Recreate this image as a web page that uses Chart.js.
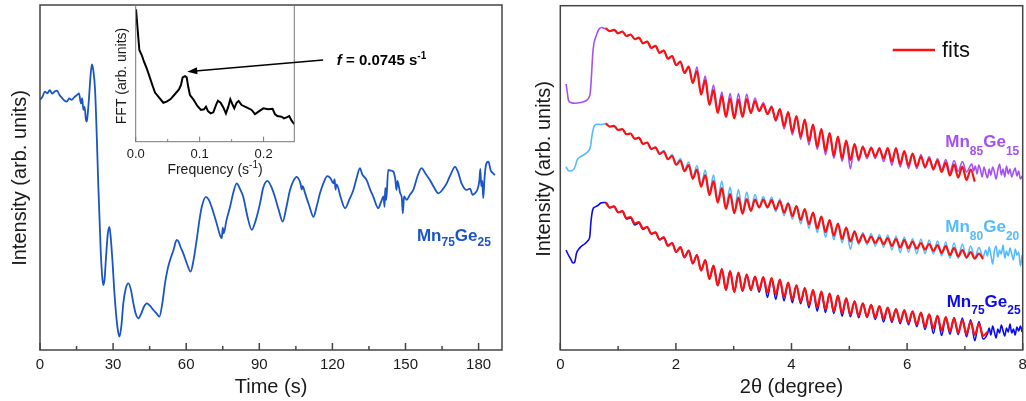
<!DOCTYPE html>
<html><head><meta charset="utf-8">
<script src="https://cdn.jsdelivr.net/npm/chart.js@4.4.0/dist/chart.umd.min.js"></script>
<style>
html,body{margin:0;padding:0;background:#fff;}
#wrap{position:relative;width:1026px;height:401px;overflow:hidden;background:#fff;}
canvas{position:absolute;}
</style></head><body>
<div id="wrap">
<canvas id="cL" width="510" height="401" style="left:0px;top:0px"></canvas>
<canvas id="cR" width="510" height="401" style="left:516px;top:0px"></canvas>
<canvas id="cI" width="360" height="185" style="left:90px;top:0px"></canvas>
</div>
<script>
// ---------------- DATA ----------------
// Left panel: time trace (arb. units 0-100)
const timeS = [0,1,2,3,4,5,6,7,8,9,10,11,12,13,14,15,16,16.8,17.3,17.8,18.3,18.8,19.2,19.6,20.2,20.8,21.3,21.9,22.6,23.3,23.9,24.9,25.5,26.0,26.5,27.1,27.8,28.5,29.1,29.8,30.5,31.2,31.9,32.6,33.4,34.2,35.2,36.3,37.3,38.3,39.3,40.4,41.5,42.7,43.8,45.2,46.5,47.8,49.0,50.2,51.3,52.4,53.4,54.8,56.1,57.0,57.6,58.8,60.3,61.8,63.0,64.3,65.4,66.4,68.1,69.3,70.4,72.5,74.0,74.6,75.0,75.4,76.5,78.0,79.3,80.7,82.0,83.4,85.2,86.9,88.5,90.3,91.6,93.3,95.0,96.4,98.0,99.6,101.0,102.6,104.0,105.3,107.0,107.4,107.8,108.8,110.5,112.2,113.5,114.9,116.4,117.9,119.2,120.4,120.9,121.3,121.7,123.5,125.2,126.9,128.6,130.0,131.3,132.2,134.0,135.5,136.8,138.8,140.0,141.0,141.4,141.7,142.1,142.9,144.0,145.0,145.8,146.3,146.7,147.8,148.5,148.9,149.4,150.5,151.8,153.2,155.0,156.6,158.3,160.0,161.8,163.5,165.2,166.9,168.6,170.3,171.6,173.0,175.1,176.5,177.5,178.5,179.5,180.3,180.7,181.1,181.5,181.9,182.4,183.0,184.0,185.0,185.8,186.7];
const intensityTime = [72.5,73.4,74.9,74.4,75.3,74.3,74.9,75.2,73.9,73.1,72.3,72.0,72.9,72.5,73.2,73.8,74.4,71.5,73.0,69.6,70.5,67.0,66.2,68.5,74.0,80.0,82.8,81.0,75.4,62.0,48.3,29.0,21.5,18.8,20.5,27.0,33.5,35.7,32.0,25.1,17.0,10.6,6.0,3.9,7.0,13.6,17.8,19.3,17.5,13.6,10.5,9.2,10.5,12.6,13.5,12.8,11.6,10.6,9.7,13.5,19.3,23.5,26.1,29.0,31.9,31.2,30.0,28.0,25.0,22.7,26.0,31.9,37.5,41.5,44.4,43.5,41.5,36.7,33.0,32.4,35.5,33.8,37.5,41.5,45.5,48.3,46.8,44.4,38.5,34.8,37.5,42.5,47.0,49.0,47.2,44.4,40.5,37.2,41.0,46.4,49.0,50.2,48.0,46.5,47.5,45.4,41.8,38.6,41.5,45.4,48.5,50.4,49.8,48.3,49.5,46.5,48.0,44.0,41.1,43.5,46.4,50.0,52.7,51.0,49.3,46.5,44.4,41.1,43.0,44.5,41.5,47.0,43.5,52.2,52.0,51.7,49.5,46.4,49.0,45.5,44.0,39.6,44.5,43.5,45.0,46.4,50.5,52.7,51.0,49.3,47.0,45.4,46.5,48.3,51.0,53.1,51.5,48.3,46.4,46.8,45.0,45.4,46.5,49.0,52.5,47.5,49.0,44.0,49.5,53.6,54.6,52.0,51.3,50.7];

// Inset: FFT
const fftFreq = [0.0005,0.0031,0.0057,0.0094,0.0130,0.0172,0.0214,0.0260,0.0302,0.0354,0.0432,0.0484,0.0547,0.0615,0.0677,0.0708,0.0734,0.0771,0.0797,0.0823,0.0849,0.0901,0.0964,0.1021,0.1068,0.1099,0.1130,0.1172,0.1214,0.1255,0.1286,0.1328,0.1370,0.1411,0.1448,0.1479,0.1510,0.1542,0.1578,0.1609,0.1656,0.1734,0.1813,0.1865,0.1932,0.1995,0.2073,0.2141,0.2177,0.2214,0.2281,0.2318,0.2359,0.2401,0.2438,0.2479];
const fftAmp = [96.8,81.7,67.1,63.4,58.5,53.7,48.0,41.5,35.9,32.9,28.5,29.3,31.2,34.9,38.3,41.5,47.1,48.0,47.1,39.8,34.1,31.0,26.1,23.2,23.7,25.6,22.4,20.7,21.5,26.8,30.0,28.5,25.1,20.7,25.6,31.0,27.6,24.4,28.5,29.8,26.8,25.1,23.2,20.2,22.4,24.4,23.7,24.1,20.2,18.8,18.3,17.1,17.8,18.8,15.4,12.9];

// Right panel: 2theta positions of fringe extrema (shared)
const fringeX = [0.786,0.858,0.929,1.001,1.073,1.144,1.216,1.288,1.360,1.431,
1.503,1.575,1.647,1.718,1.790,1.862,1.934,2.005,2.077,2.149,
2.221,2.292,2.364,2.436,2.508,2.579,2.651,2.723,2.795,2.866,
2.938,3.010,3.082,3.153,3.225,3.297,3.369,3.440,3.512,3.584,
3.656,3.727,3.799,3.871,3.943,4.014,4.086,4.158,4.230,4.301,
4.373,4.445,4.517,4.588,4.660,4.732,4.804,4.875,4.947,5.019,
5.091,5.162,5.234,5.306,5.378,5.449,5.521,5.593,5.665,5.736,
5.808,5.880,5.952,6.023,6.095,6.167,6.239,6.310,6.382,6.454,
6.526,6.597,6.669,6.741,6.813,6.884,6.956,7.028,7.100,7.171,
7.243,7.315,7.387];

// Mn85Ge15
const preXMn85 = [0.10,0.12,0.14,0.18,0.25,0.35,0.45,0.50,0.52,0.54,0.56,0.58,0.62,0.67,0.72,0.76];
const preMn85 = [266,258,250,247.5,246.7,247.5,249.5,253,258,275,295,306,314,321,322.5,321.5];
const measMn85 = [321.7,318.8,320.2,316.7,318.5,314,315.5,310.9,312.3,306.6,
308.5,302.1,304.2,297.2,299.5,291.3,294,284.8,288.5,277,
283.5,267,283,256.5,274,246,265,238,258,234,
256.5,232.5,256.5,234,256,237,252,239,247.5,236,
244,229,241,221,238,215,234,210.5,230.5,205,
225.5,200.5,221,195,217,191.5,213.5,188.5,209.5,181,
206,189,204,191.5,203,191.5,202.5,188.5,202,184.5,
202.5,183,199,181.5,196.5,181.5,195.5,182,193.5,180,
191.5,180,190.5,177.5,189.5,178.5,188.5,178];
const tailXMn85 = [7.12,7.15,7.18,7.21,7.24,7.27,7.30,7.33,7.36,7.39,7.42,7.45,7.48,7.51,7.54,7.57,7.60,7.63,7.66,7.69,7.72,7.75,7.78,7.81,7.84,7.87,7.90,7.93,7.96,7.99];
const tailMn85 = [186,179,184,176,185,180,173,183,177,172,181,175,183,178,171,180,186,175,181,173,184,176,181,173,178,182,174,179,171,174];
const fitMn85 = [321.7,318.8,320.2,316.7,318.5,314,315.5,310.9,312.3,306.6,
308.5,302.1,304.2,297.2,299.5,291.3,294,284.8,288.5,277,
283.5,267,279,255.5,270,245,260,237,254,233,
251.5,231.5,250.5,233,251,237,249,239,245.5,236,
243,230,241,224,238,218,234,213.5,230.5,209,
225.5,203.5,221,199,217,194.5,213.5,191.5,209.5,190,
206,191,203,193.5,202,193.5,201.5,191.5,202,188.5,
201.5,186,199,184.5,196.5,183.5,193.5,183,191.5,181,
189.5,178,187.5,174.5,185.5,172.5,183.5,170,180.5,168.3];

// Mn80Ge20
const preXMn80 = [0.10,0.13,0.16,0.22,0.26,0.29,0.33,0.40,0.48,0.52,0.55,0.58,0.63,0.70,0.75];
const preMn80 = [183.3,180,179,180,184,190,192.5,195,198.5,203,215,223,225.7,225.5,226];
const measMn80 = [226.5,223.4,224.2,220,220.8,215.9,216.5,211.2,212.3,206.1,
207.5,200.9,202.7,196,199.5,190.8,195.5,185.3,191.5,179.8,
188,172.2,184.5,165.3,180,157,175,149.5,169,142,
163,137.8,160.5,137.3,158,139.2,155.5,142.5,153.5,141.8,
153,138.5,151,134.3,147.5,130.8,144,126.1,141,121.8,
137.5,117.5,133.5,112.8,130,110.3,126.5,107.1,122.5,100.5,
119.5,105.6,117.5,105.5,116.5,104,115.5,102.8,115,100.1,
114,97.5,113,97.8,111.5,96.3,111,96.5,110,96.1,
109,94.1,108,92,107,91.6,106,91.6,104,92,
102.5,93];
const tailXMn80 = [7.36,7.39,7.42,7.45,7.48,7.51,7.54,7.57,7.60,7.63,7.66,7.69,7.72,7.75,7.78,7.81,7.84,7.87,7.90,7.93,7.96,7.99];
const tailMn80 = [100,94,103,95,86,99,104,93,100,96,105,92,99,94,102,96,90,101,95,98,84,95];
const fitMn80 = [226.5,223.4,224.2,220,220.8,215.9,216.5,211.2,212.3,206.1,
207.5,200.9,202.7,196,198.5,190.8,194,185.3,189.5,178.8,
185,171.2,180.5,163.3,175,155,169,147.5,162,141,
156,136.8,152.5,136.3,151,139.2,150.5,142.5,150.5,142.8,
150,140.5,149,137.3,146.5,133.8,144,130.1,141,125.8,
137.5,121.5,133.5,117.8,130,114.3,126.5,111.1,122.5,108.5,
118.5,107.6,115.5,107.5,113.5,107,112.5,105.8,112,104.1,
111,102.5,110,101.8,108.5,101.3,107,100.5,106,99.1,
105,97.1,104,95,102,93.6,100,92.6,98,91.3,
96.5,91];

// Mn75Ge25
const preXMn75 = [0.10,0.14,0.18,0.22,0.25,0.28,0.32,0.36,0.42,0.48,0.51,0.53,0.56,0.60,0.65,0.70,0.75];
const preMn75 = [100,95,91,87,88,96.7,101,103.5,106,109.5,113.3,128,140,143,144.5,147,147.5];
const measMn75 = [147.5,142.4,143.7,137.7,138.9,131,132,125,127,120.5,
123,116.2,117.7,110.4,112.6,104.2,107,98,102.8,92.7,
99.5,86.5,95,79.5,90,71,84.5,64.5,81,60,
79,58,77.5,59,75.5,60,73.5,58,73,52.5,
72,50.5,70.5,49,67.5,47.3,64.7,46.2,62,42.3,
60,38.8,58.4,37.5,56.5,36.5,54.5,33.8,51.6,33.3,
48.7,32.3,46.7,32.5,45.2,30.5,43.8,28,42.3,27.6,
41,26.4,39.8,25.3,38.7,23.4,37.5,20.5,35.7,16.6,
34.2,14.5,32.8,15.8,32.4,15.5,31.9,13.2,30.3,9.2,
28.5,11];
const tailXMn75 = [7.39,7.42,7.45,7.48,7.51,7.54,7.57,7.60,7.63,7.66,7.69,7.72,7.75,7.78,7.81,7.84,7.87,7.90,7.93,7.96,7.99];
const tailMn75 = [16,22,15,24,18,12,21,17,25,19,14,22,18,26,17,21,15,23,19,24,18];
const fitMn75 = [147.5,142.4,143.7,137.7,138.9,132,133,126.5,128,121.5,
123,116.2,117.7,110.4,112.6,104.2,107,98,102.8,92.7,
99.5,86.5,95,79.5,90,71,84.5,64.5,81,60,
79,58,77.5,59,75.5,60,73.5,60,73,57.5,
72,55.5,70.5,53,67.5,50.3,64.7,48.2,62,45.3,
60,42.8,58.4,40.5,56.5,38.5,54.5,36.8,51.6,35.3,
48.7,34.3,46.7,33.5,45.2,32.5,43.8,31,42.3,29.6,
41,28.4,39.8,27.3,38.7,25.4,37.5,23.5,35.7,21.6,
34.2,19.5,32.8,18.8,31.4,17.5,29.9,16.2,28.3,15.2,
26.5,14,18];

// ---------------- HELPERS ----------------
const FONT = '"Liberation Sans", Arial, Helvetica, sans-serif';
Chart.defaults.font.family = FONT;
const TXT = '#1a1a1a';
function pts(xs, ys){ return ys.map((y,i)=>({x:xs[i], y:y})); }
function rich(ctx, x, y, parts, color, align){
  ctx.save(); ctx.fillStyle = color; ctx.textBaseline = 'alphabetic'; ctx.textAlign = 'left';
  let w = 0; parts.forEach(p=>{ ctx.font = p.f; w += ctx.measureText(p.t).width; });
  let cx = align === 'center' ? x - w/2 : x;
  parts.forEach(p=>{ ctx.font = p.f; ctx.fillText(p.t, cx, y + (p.dy||0)); cx += ctx.measureText(p.t).width; });
  ctx.restore();
}
function rotText(ctx, text, cx, cy, font){
  ctx.save(); ctx.translate(cx, cy); ctx.rotate(-Math.PI/2);
  ctx.font = font; ctx.fillStyle = TXT; ctx.textAlign = 'center'; ctx.textBaseline = 'middle';
  ctx.fillText(text, 0, 0); ctx.restore();
}
function frame(chart, color, lw, isMajor, maj, min){
  const {ctx, chartArea:a} = chart; const x = chart.scales.x;
  ctx.save(); ctx.strokeStyle = color; ctx.lineWidth = lw;
  ctx.strokeRect(a.left, a.top, a.right - a.left, a.bottom - a.top);
  x.ticks.forEach(t=>{
    if (t.value < x.min - 1e-9 || t.value > x.max + 1e-9) return;
    const px = x.getPixelForValue(t.value); const L = isMajor(t.value) ? maj : min;
    ctx.beginPath(); ctx.moveTo(px, a.bottom); ctx.lineTo(px, a.bottom - L); ctx.stroke();
  });
  ctx.restore();
}
const hiddenY = (w, max) => ({ type:'linear', min:0, max:max, ticks:{display:false}, grid:{display:false, drawTicks:false}, border:{display:false}, afterFit(s){ s.width = w; } });

// ---------------- LEFT MAIN ----------------
const COL_L = '#1955c8';
new Chart(document.getElementById('cL'), {
  type:'line',
  data:{ datasets:[{ data: pts(timeS, intensityTime), borderColor: COL_L, borderWidth:1.8, pointRadius:0, cubicInterpolationMode:'monotone', fill:false }] },
  options:{
    responsive:false, animation:false, devicePixelRatio:1,
    layout:{ padding:{ left:0, top:5, right:8, bottom:0 } },
    plugins:{ legend:{display:false}, tooltip:{enabled:false} },
    scales:{
      x:{ type:'linear', min:0, max:189.6,
        ticks:{ stepSize:15, includeBounds:false, autoSkip:false, maxRotation:0, color:TXT, font:{size:15}, padding:6,
          callback:v => (Math.round(v) % 30 === 0 ? String(Math.round(v)) : '') },
        grid:{ display:false, drawTicks:false }, border:{ display:false },
        title:{ display:true, text:'Time (s)', color:TXT, font:{size:20}, padding:{top:0, bottom:2} },
        afterFit(s){ s.height = 51; s.paddingLeft = 0; s.paddingRight = 0; } },
      y: hiddenY(40, 100)
    }
  },
  plugins:[{ id:'decoL', afterDraw(chart){
    const ctx = chart.ctx;
    frame(chart, '#444', 1.5, v => Math.round(v) % 30 === 0, 7, 4);
    rotText(ctx, 'Intensity (arb. units)', 20, 178, '20px ' + FONT);
    const xs = chart.scales.x, ys = chart.scales.y;
    rich(ctx, xs.getPixelForValue(154.7), ys.getPixelForValue(31.7), [
      {t:'Mn', f:'bold 17px ' + FONT}, {t:'75', f:'bold 12px ' + FONT, dy:5.5},
      {t:'Ge', f:'bold 17px ' + FONT}, {t:'25', f:'bold 12px ' + FONT, dy:5.5}], COL_L);
  }}]
});

// ---------------- INSET ----------------
new Chart(document.getElementById('cI'), {
  type:'line',
  data:{ datasets:[{ data: pts(fftFreq, fftAmp), borderColor:'#000', borderWidth:2, pointRadius:0, tension:0, fill:false }] },
  options:{
    responsive:false, animation:false, devicePixelRatio:1,
    layout:{ padding:{ left:0, top:5, right:155.7, bottom:0 } },
    plugins:{ legend:{display:false}, tooltip:{enabled:false} },
    scales:{
      x:{ type:'linear', min:0, max:0.248,
        ticks:{ stepSize:0.05, includeBounds:false, autoSkip:false, maxRotation:0, color:TXT, font:{size:13}, padding:4.5,
          callback:v => { const r = Math.round(v*100); return r % 10 === 0 ? (r/100).toFixed(1) : ''; } },
        grid:{ display:false, drawTicks:false }, border:{ display:false },
        afterFit(s){ s.height = 43.3; s.paddingLeft = 0; s.paddingRight = 0; } },
      y: hiddenY(45.7, 100)
    }
  },
  plugins:[{ id:'decoI', afterDraw(chart){
    const ctx = chart.ctx; const xs = chart.scales.x, ys = chart.scales.y;
    frame(chart, '#777', 1, v => Math.round(v*100) % 10 === 0, 5, 2.5);
    rotText(ctx, 'FFT (arb. units)', 31.7, 76, '14px ' + FONT);
    rich(ctx, (chart.chartArea.left + chart.chartArea.right)/2, 174, [
      {t:'Frequency (s', f:'14px ' + FONT}, {t:'-1', f:'10px ' + FONT, dy:-6}, {t:')', f:'14px ' + FONT}], TXT, 'center');
    // arrow
    const x1 = xs.getPixelForValue(0.2931), y1 = ys.getPixelForValue(59.8);
    const x2 = xs.getPixelForValue(0.0806), y2 = ys.getPixelForValue(51.2);
    const ang = Math.atan2(y2 - y1, x2 - x1);
    ctx.save(); ctx.strokeStyle = '#000'; ctx.fillStyle = '#000'; ctx.lineWidth = 1.5;
    ctx.beginPath(); ctx.moveTo(x1, y1); ctx.lineTo(x2 - 8*Math.cos(ang), y2 - 8*Math.sin(ang)); ctx.stroke();
    ctx.beginPath(); ctx.moveTo(x2, y2);
    ctx.lineTo(x2 - 10*Math.cos(ang) + 3.5*Math.sin(ang), y2 - 10*Math.sin(ang) - 3.5*Math.cos(ang));
    ctx.lineTo(x2 - 10*Math.cos(ang) - 3.5*Math.sin(ang), y2 - 10*Math.sin(ang) + 3.5*Math.cos(ang));
    ctx.closePath(); ctx.fill(); ctx.restore();
    rich(ctx, xs.getPixelForValue(0.3145), ys.getPixelForValue(56.1), [
      {t:'f', f:'italic bold 15px ' + FONT}, {t:' = 0.0745 s', f:'bold 15px ' + FONT}, {t:'-1', f:'bold 10px ' + FONT, dy:-6}], '#000');
  }}]
});

// ---------------- RIGHT ----------------
const COL_85 = '#a550f5', COL_80 = '#55bbff', COL_75 = '#0a0af0', COL_FIT = '#ff1010';
const meas = (xs1, y1, y2, xs3, y3) => [...pts(xs1, y1), ...pts(fringeX, y2), ...pts(xs3, y3)];
const lineDs = (data, color, w, order) => ({ data, borderColor:color, borderWidth:w, pointRadius:0, cubicInterpolationMode:'monotone', fill:false, order });
new Chart(document.getElementById('cR'), {
  type:'line',
  data:{ datasets:[
    lineDs(pts(fringeX, fitMn85), COL_FIT, 2.2, 0),
    lineDs(pts(fringeX, fitMn80), COL_FIT, 2.2, 0),
    lineDs(pts(fringeX, fitMn75), COL_FIT, 2.2, 0),
    lineDs(meas(preXMn85, preMn85, measMn85, tailXMn85, tailMn85), COL_85, 1.6, 1),
    lineDs(meas(preXMn80, preMn80, measMn80, tailXMn80, tailMn80), COL_80, 1.6, 1),
    lineDs(meas(preXMn75, preMn75, measMn75, tailXMn75, tailMn75), COL_75, 1.6, 1)
  ]},
  options:{
    responsive:false, animation:false, devicePixelRatio:1,
    layout:{ padding:{ left:0, top:5.7, right:3.3, bottom:0 } },
    plugins:{ legend:{display:false}, tooltip:{enabled:false} },
    scales:{
      x:{ type:'linear', min:0, max:8,
        ticks:{ stepSize:1, includeBounds:false, autoSkip:false, maxRotation:0, color:TXT, font:{size:15}, padding:6,
          callback:v => (Math.round(v) % 2 === 0 ? String(Math.round(v)) : '') },
        grid:{ display:false, drawTicks:false }, border:{ display:false },
        title:{ display:true, text:'2θ (degree)', color:TXT, font:{size:20}, padding:{top:0, bottom:2} },
        afterFit(s){ s.height = 51; s.paddingLeft = 0; s.paddingRight = 0; } },
      y: hiddenY(44.3, 344.3)
    }
  },
  plugins:[{ id:'decoR', afterDraw(chart){
    const ctx = chart.ctx; const xs = chart.scales.x, ys = chart.scales.y;
    frame(chart, '#444', 1.5, v => Math.round(v) % 2 === 0, 7, 4);
    rotText(ctx, 'Intensity (arb. units)', 28, 169, '20px ' + FONT);
    // legend "fits"
    ctx.save(); ctx.strokeStyle = COL_FIT; ctx.lineWidth = 2.5;
    ctx.beginPath(); ctx.moveTo(xs.getPixelForValue(5.751), ys.getPixelForValue(300)); ctx.lineTo(xs.getPixelForValue(6.483), ys.getPixelForValue(300)); ctx.stroke(); ctx.restore();
    rich(ctx, xs.getPixelForValue(6.604), ys.getPixelForValue(293.3), [{t:'fits', f:'22px ' + FONT}], '#111');
    const lab = (x, y, a, b, col) => rich(ctx, xs.getPixelForValue(x), ys.getPixelForValue(y), [
      {t:'Mn', f:'bold 17px ' + FONT}, {t:a, f:'bold 12px ' + FONT, dy:7.5},
      {t:'Ge', f:'bold 17px ' + FONT}, {t:b, f:'bold 12px ' + FONT, dy:7.5}], col);
    lab(6.661, 203, '85', '15', COL_85);
    lab(6.661, 118, '80', '20', COL_80);
    lab(6.685, 43.5, '75', '25', COL_75);
  }}]
});
</script>
</body></html>
